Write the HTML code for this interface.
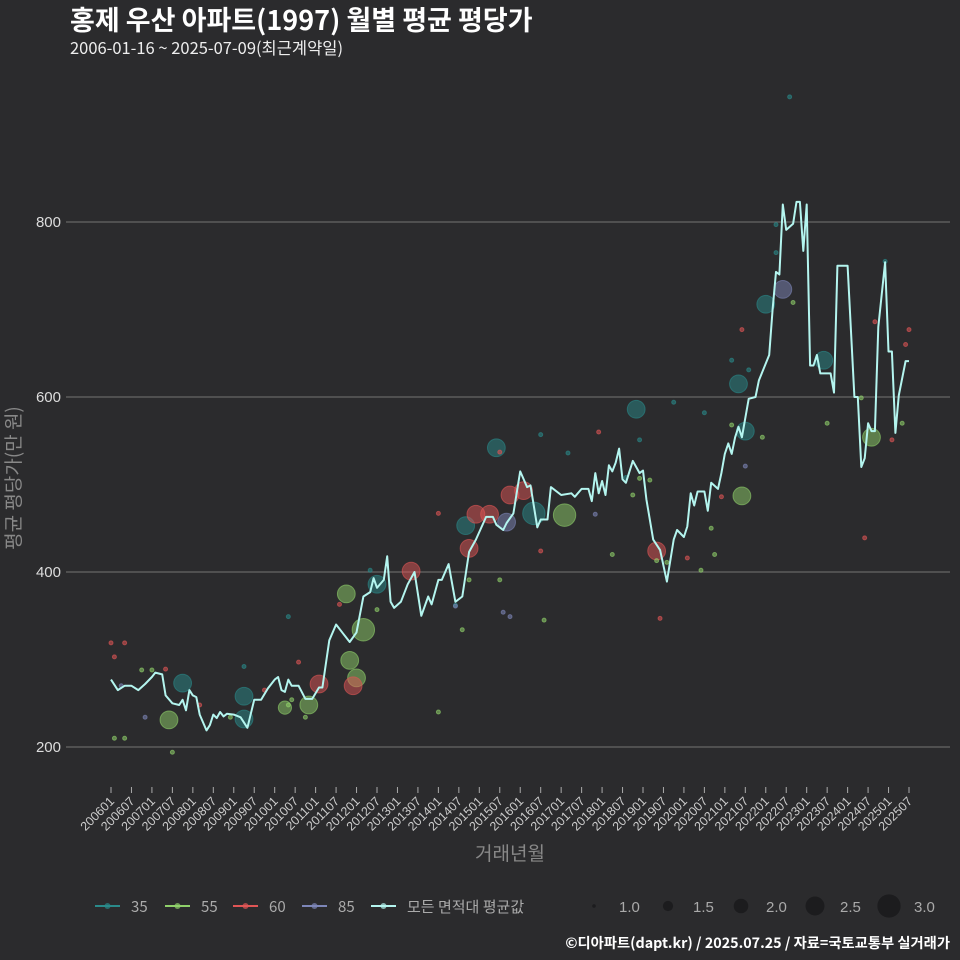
<!DOCTYPE html>
<html><head><meta charset="utf-8">
<style>
html,body{margin:0;padding:0;background:#2b2b2d;}
svg{display:block;font-family:"Liberation Sans","Noto Sans CJK KR",sans-serif;}
.kr{font-family:"Noto Sans CJK KR","Liberation Sans",sans-serif;}
</style></head>
<body>
<svg id="chart" width="960" height="960" viewBox="0 0 960 960" xmlns="http://www.w3.org/2000/svg">
<rect width="960" height="960" fill="#2b2b2d"/>
<text class="kr" x="70" y="30" fill="#ffffff" font-size="27" font-weight="bold">홍제 우산 아파트(1997) 월별 평균 평당가</text>
<text class="kr" x="70" y="54" fill="#eeeeee" font-size="16.5">2006-01-16 ~ 2025-07-09(최근계약일)</text>
<g id="grid"></g>
<g id="yticks"></g>
<g id="xticks"></g>
<g id="points"></g>
<g id="line"></g>
<text class="kr" transform="translate(20,478) rotate(-90)" text-anchor="middle" fill="#888888" font-size="19">평균 평당가(만 원)</text>
<text class="kr" x="510" y="860" text-anchor="middle" fill="#888888" font-size="19">거래년월</text>
<g id="legend"></g>
<text class="kr" x="950" y="948" text-anchor="end" fill="#ffffff" font-size="14.3" font-weight="bold">©디아파트(dapt.kr) / 2025.07.25 / 자료=국토교통부 실거래가</text>
</svg>
<script>
const yTicks=[200,400,600,800];
const xTickLabels=["200601","200607","200701","200707","200801","200807","200901","200907","201001","201007","201101","201107","201201","201207","201301","201307","201401","201407","201501","201507","201601","201607","201701","201707","201801","201807","201901","201907","202001","202007","202101","202107","202201","202207","202301","202307","202401","202407","202501","202507"];
const lineMonths=[0,2,4,6,8,10,12,13,15,16,18,20,21,22,23,24,25,26,28,29,30,31,32,33,34,36,38,40,42,44,46,48,49,50,51,52,53,55,57,59,61,62,64,66,68,70,72,74,76,77,78,80,81,82,83,85,87,89,91,93,94,96,97,99,101,103,105,107,110,112,113,115,116,118,120,122,123,125,126,128,129,132,135,136,138,140,141,142,143,144,145,146,147,148,149,150,151,153,155,156,157,159,161,163,165,166,168,169,170,171,172,174,175,176,178,179,180,181,182,183,184,185,187,189,190,193,194,195,196,197,198,200,201,202,203,204,205,206,207,208,211,212,213,216,218,219,220,221,222,223,224,225,227,228,229,230,231,233,234];
const lineValues=[277,265,270,270,265,272,280,285,283,259,250,248,254,242,265,259,257,237,219,225,237,233,240,235,238,237,234,222,254,254,267,277,280,265,263,277,270,270,255,255,268,268,322,340,330,320,331,372,377,393,382,391,418,366,359,366,386,400,350,372,363,391,391,409,366,372,423,437,463,463,454,448,456,467,515,497,499,451,460,460,497,488,490,486,495,495,481,513,490,504,488,522,515,525,541,506,502,527,513,516,483,437,425,389,437,448,440,452,490,476,492,492,470,502,495,513,535,547,535,554,566,554,598,600,619,648,700,743,740,820,791,798,823,823,767,820,636,636,648,627,627,605,750,750,600,600,520,530,570,561,561,680,754,652,652,559,602,641,641,663];
const ptMonths=[21,39,39,17,51,58,69,74,70,72,71,61,78,88,105,104,107,111,113,116,117,121,124,133,154,160,184,186,185,192,197,209,223,
0,4,1,16,26,45,55,67,96,114,126,143,161,169,179,185,221,224,229,233,234,
1,4,9,12,18,35,52,53,57,78,96,105,103,114,127,147,153,155,158,160,163,173,176,177,182,191,200,210,220,232,
39,52,76,101,126,134,155,151,165,174,182,187,195,195,199,227,
10,3,101,115,117,142,186];
const ptValues=[273,258,232,231,245,248,375,334,299,279,270,272,386,401,427,453,466,466,542,457,488,493,467,465,586,424,615,561,487,706,723,642,554,
319,319,303,289,248,265,297,363,467,537,424,560,347,416,486,677,439,686,551,660,677,
210,210,288,288,194,234,248,254,234,357,240,391,334,391,345,420,488,507,505,413,411,402,450,420,568,554,708,570,599,570,
292,349,402,362,557,536,551,508,594,582,642,631,765,797,943,755,
234,270,361,354,349,466,521];
const ptSizes=[2.5,2.5,2.5,2.5,2,2.5,2.5,3,2.5,2.5,2.5,2.5,2.5,2.5,2.5,2.5,2.5,2.5,2.5,2.5,2.5,2.5,3,3,2.5,2.5,2.5,2.5,2.5,2.5,2.5,2.5,2.5,
1,1,1,1,1,1,1,1,1,1,1,1,1,1,1,1,1,1,1,1,1,
1,1,1,1,1,1,1,1,1,1,1,1,1,1,1,1,1,1,1,1,1,1,1,1,1,1,1,1,1,1,
1,1,1,1,1,1,1,1,1,1,1,1,1,1,1,1,
1,1,1,1,1,1,1];
const ptGroups=["35","35","35","55","55","55","55","55","55","55","60","60","35","60","60","35","60","60","35","85","60","60","35","55","35","60","35","35","55","35","85","35","55",
"60","60","60","60","60","60","60","60","60","60","60","60","60","60","60","60","60","60","60","60","60",
"55","55","55","55","55","55","55","55","55","55","55","55","55","55","55","55","55","55","55","55","55","55","55","55","55","55","55","55","55","55",
"35","35","35","35","35","35","35","35","35","35","35","35","35","35","35","35",
"85","85","85","85","85","85","85"];
const colors={"35":"#2a8a8a","55":"#8fd06a","60":"#e05555","85":"#7d86b8"};
const NS="http://www.w3.org/2000/svg";
const X0=111,X1=909,MMAX=234,Y0=747,Y1=222;
function xs(m){return X0+(X1-X0)*m/MMAX;}
function ys(v){return Y0-(v-200)*(Y0-Y1)/600;}
function rs(s){return 2+(s-1)*4.6;}
function mk(tag,attrs,parent){const e=document.createElementNS(NS,tag);for(const k in attrs)e.setAttribute(k,attrs[k]);parent.appendChild(e);return e;}
const grid=document.getElementById('grid'),yt=document.getElementById('yticks');
yTicks.forEach(v=>{
  const l=mk('line',{x1:66,x2:950,y1:ys(v),y2:ys(v),stroke:'#666',"stroke-width":1.2},grid);
  
  
  const t=mk('text',{x:61,y:ys(v)+5,"text-anchor":"end",fill:"#dddddd","font-size":15},yt);
  t.textContent=v;
  
  
});
const xt=document.getElementById('xticks');
xTickLabels.forEach((lab,i)=>{
  const m=i*6,x=xs(m);
  const tk=mk('line',{x1:x,x2:x,y1:787,y2:793,stroke:'#aaa'},xt);
  
  
  const t=mk('text',{transform:`translate(${x+4},${802}) rotate(-45)`,"text-anchor":"end",fill:"#cccccc","font-size":12.5},xt);
  t.textContent=lab;
  
  
});
const pg=document.getElementById('points');
ptMonths.forEach((m,i)=>{
  const c=colors[ptGroups[i]];
  const big=ptSizes[i]>1;
  const p=mk('circle',{cx:xs(m),cy:ys(ptValues[i]),r:rs(ptSizes[i]),fill:c,"fill-opacity":big?0.5:0.55,stroke:c,"stroke-opacity":0.6,"stroke-width":1},pg);
  
  
});
const lg=document.getElementById('line');
const d=lineMonths.map((m,i)=>(i?'L':'M')+xs(m).toFixed(1)+','+ys(lineValues[i]).toFixed(1)).join('');
const path=mk('path',{d:d,fill:'none',stroke:'#b4f5ef',"stroke-width":2,"stroke-linejoin":"round"},lg);


const leg=document.getElementById('legend');
const li=[["35",colors["35"],95],["55",colors["55"],165],["60",colors["60"],233],["85",colors["85"],302],["모든 면적대 평균값","#b4f5ef",371]];
li.forEach(([lab,c,x])=>{
  const g=mk('g',{},leg);
  
  
  mk('line',{x1:x,x2:x+25,y1:906,y2:906,stroke:c,"stroke-width":2},g);
  mk('circle',{cx:x+12.5,cy:906,r:3,fill:c,"fill-opacity":0.7},g);
  const t=mk('text',{x:x+36,y:912,fill:"#aaaaaa","font-size":15,"font-family":"Noto Sans CJK KR, Liberation Sans, sans-serif"},g);
  t.textContent=lab;
});
const sz=[[1.0,594,"1.0"],[1.5,668,"1.5"],[2.0,741,"2.0"],[2.5,815,"2.5"],[3.0,889,"3.0"]];
sz.forEach(([s,x,lab])=>{
  const g=mk('g',{},leg);
  
  
  mk('circle',{cx:x,cy:906,r:s===1?1.8:rs(s)*0.95+1,fill:"#1c1c1e"},g);
  const t=mk('text',{x:x+25,y:912,fill:"#aaaaaa","font-size":15},g);
  t.textContent=lab;
});
</script>
</body></html>
